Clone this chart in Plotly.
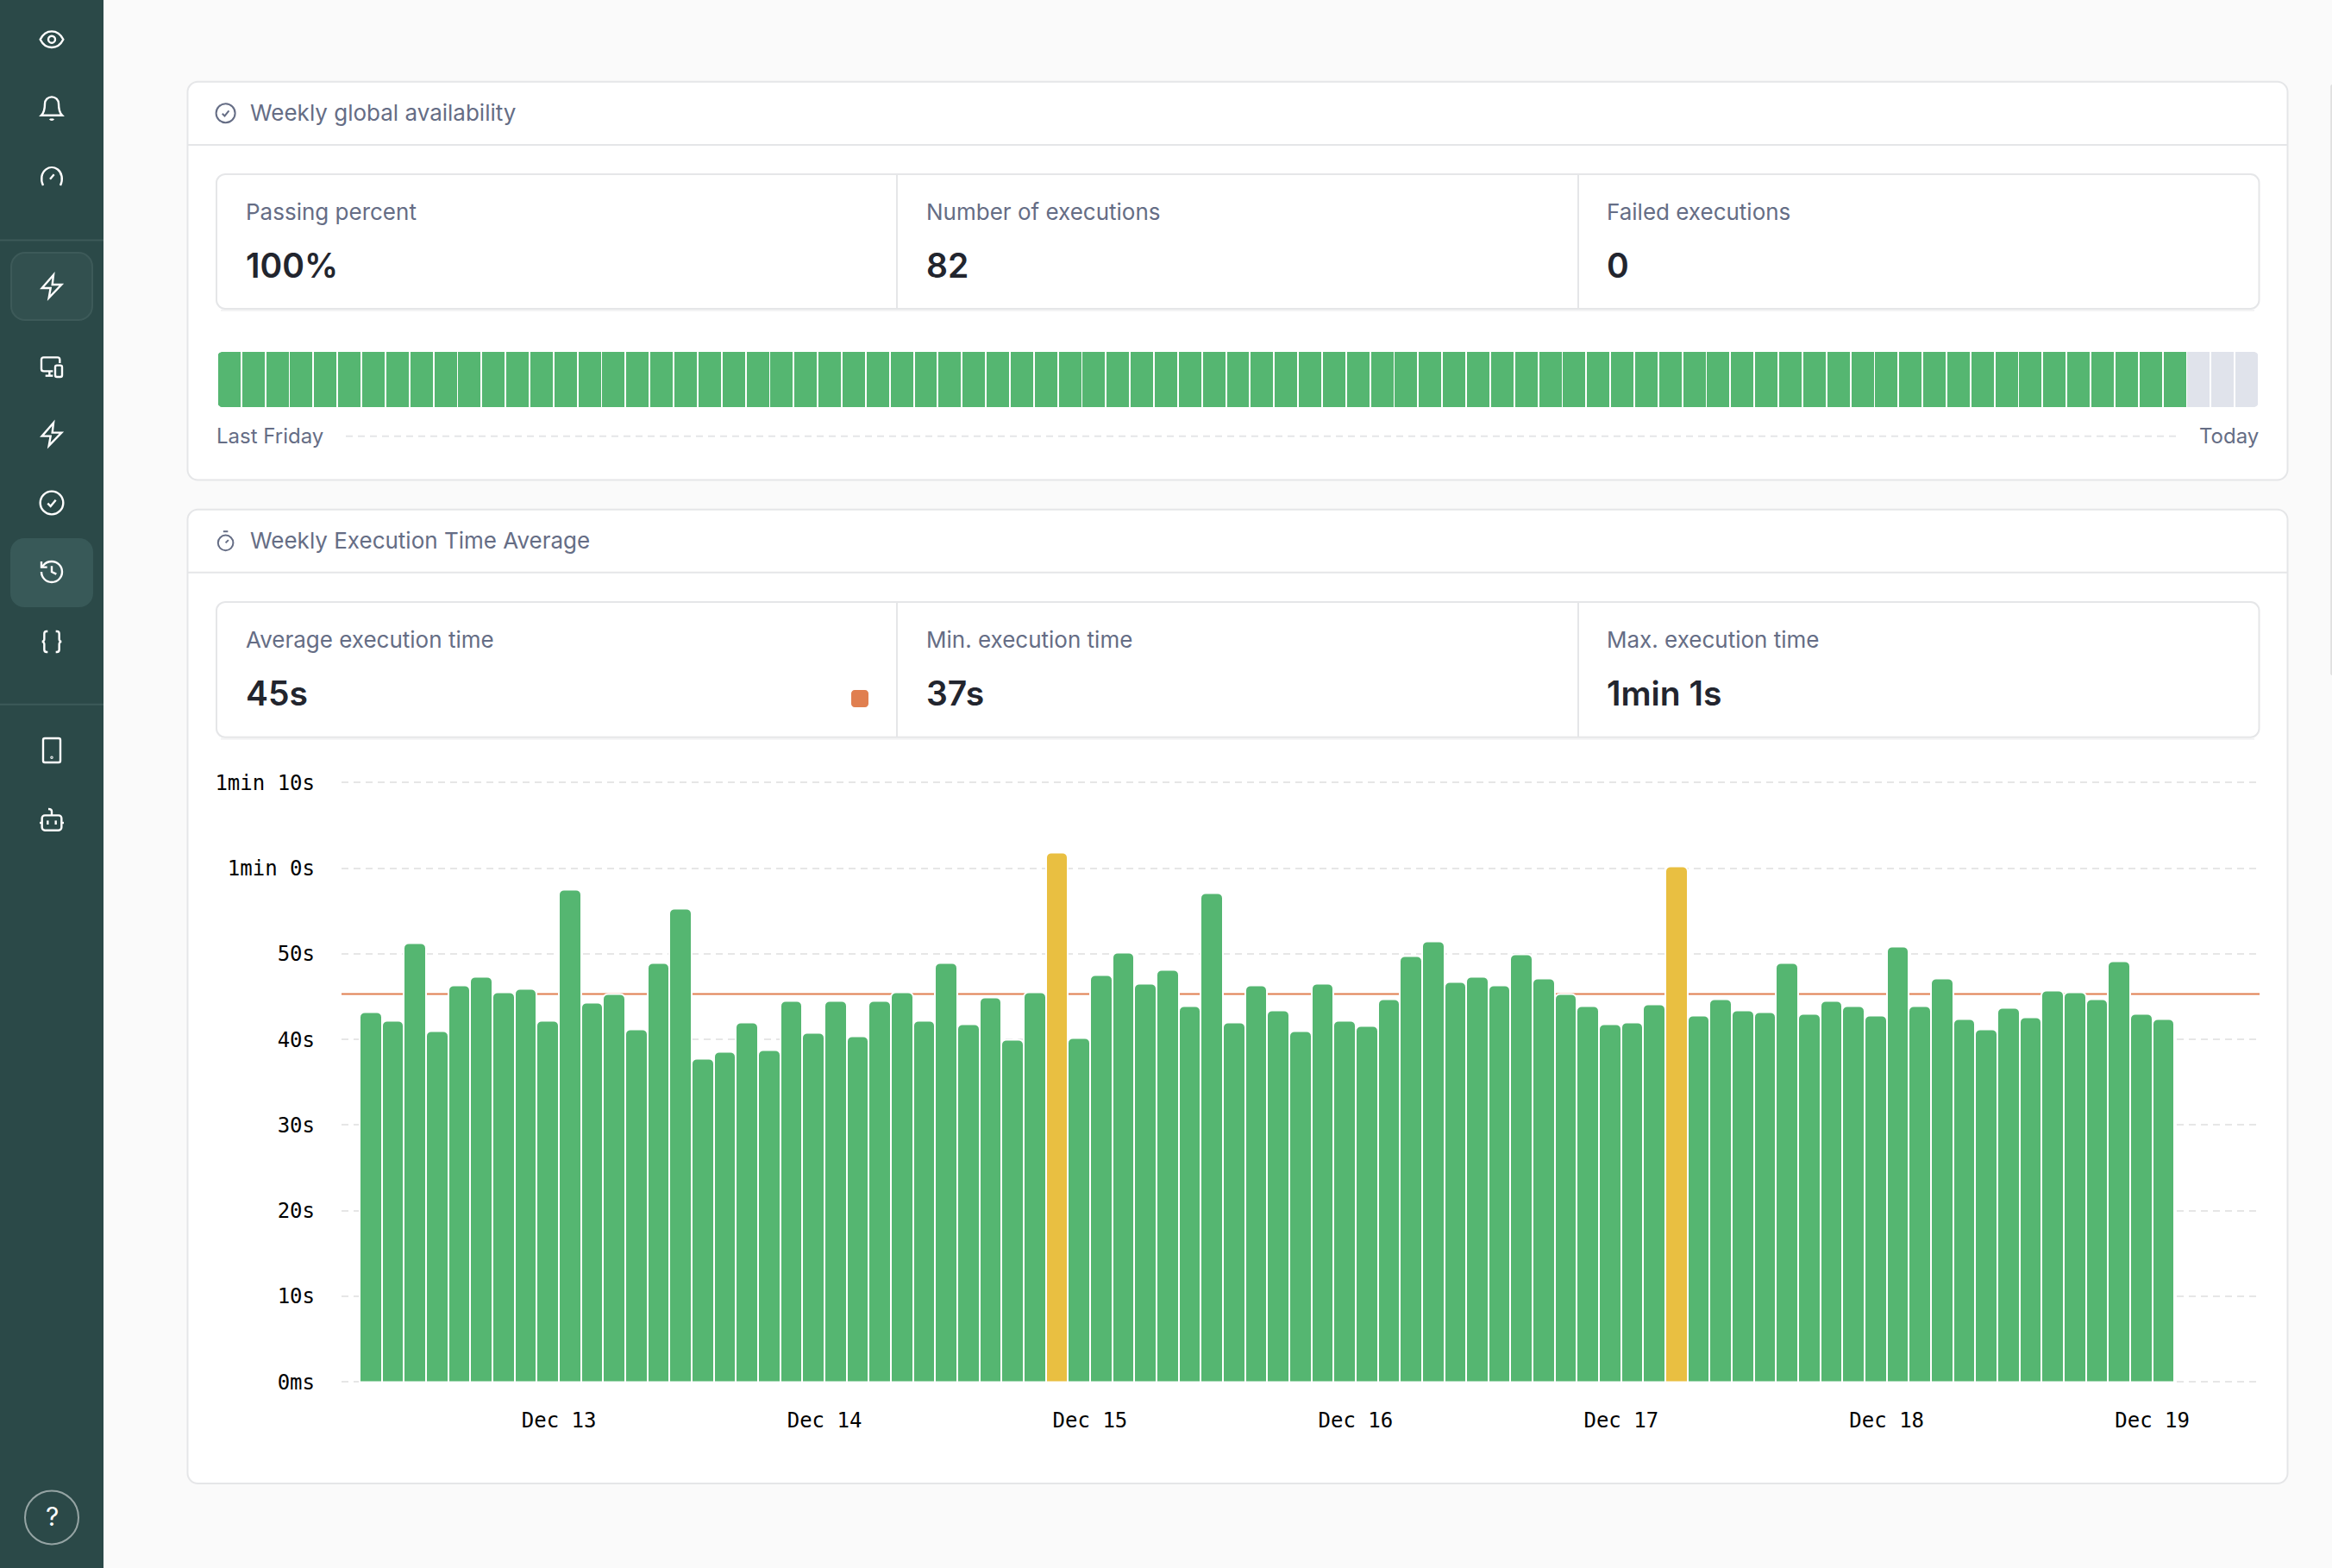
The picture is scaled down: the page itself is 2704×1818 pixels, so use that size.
import pandas as pd
import plotly.graph_objects as go

W, H = 2704, 1818

# execution time per run, seconds
exec_seconds = [
    43.2, 42.2, 51.3, 41.0, 46.3, 47.3, 45.5, 45.9, 42.2, 57.5, 44.3, 45.3, 41.2, 48.9, 55.3, 37.8,
    38.6, 42.0, 38.8, 44.5, 40.8, 44.5, 40.4, 44.5, 45.5, 42.2, 48.9, 41.8, 44.9, 40.0, 45.5, 61.8,
    40.2, 47.5, 50.1, 46.5, 48.1, 43.9, 57.1, 42.0, 46.3, 43.4, 41.0, 46.5, 42.2, 41.6, 44.7, 49.7,
    51.5, 46.7, 47.3, 46.3, 49.9, 47.1, 45.3, 43.9, 41.8, 42.0, 44.1, 60.2, 42.8, 44.7,
    43.4, 43.2, 48.9, 43.0, 44.5, 43.9, 42.8, 50.9, 43.9, 47.1, 42.4, 41.2, 43.7, 42.6, 45.7, 45.5,
    44.7, 49.1, 43.0, 42.4,
]
avg_seconds = 45.3
slow_limit = 60
run_times = pd.date_range("2023-12-12 07:00", periods=len(exec_seconds), freq="2h")
y_ticks = [0, 10, 20, 30, 40, 50, 60, 70]
y_labels = ["0ms", "10s", "20s", "30s", "40s", "50s", "1min 0s", "1min 10s"]
x_ticks = ["2023-12-13", "2023-12-14", "2023-12-15", "2023-12-16", "2023-12-17", "2023-12-18", "2023-12-19"]
x_labels = ["Dec 13", "Dec 14", "Dec 15", "Dec 16", "Dec 17", "Dec 18", "Dec 19"]

# availability strip: 82 passed slots then 3 empty ones
passed_slots = 82
empty_slots = 3

availability_stats = [("Passing percent", "100%"), ("Number of executions", "82"), ("Failed executions", "0")]
time_stats = [("Average execution time", "45s"), ("Min. execution time", "37s"), ("Max. execution time", "1min 1s")]

GREEN = "#55B671"
YELLOW = "#E9BF41"
ORANGE = "#E07F50"
EMPTY = "#E0E3EB"
BORDER = "#E5E6E8"
MUTED = "#656D85"
DARK = "#22252E"
SIDEBAR = "#2B4948"
FONT = "Inter"
MONO = "DejaVu Sans Mono"


def fx(x):
    return x / W


def fy(y):
    return 1 - y / H


def to_paper(d):
    # path written in page pixels, absolute commands only
    out = []
    is_x = True
    for tok in d.split():
        if tok[0].isalpha():
            out.append(tok)
            is_x = True
        else:
            v = float(tok)
            out.append(f"{fx(v):.6f}" if is_x else f"{fy(v):.6f}")
            is_x = not is_x
    return " ".join(out)


def rrect(x0, y0, x1, y1, r):
    k = r * 0.45
    return (f"M {x0 + r} {y0} L {x1 - r} {y0} C {x1 - k} {y0} {x1} {y0 + k} {x1} {y0 + r} "
            f"L {x1} {y1 - r} C {x1} {y1 - k} {x1 - k} {y1} {x1 - r} {y1} "
            f"L {x0 + r} {y1} C {x0 + k} {y1} {x0} {y1 - k} {x0} {y1 - r} "
            f"L {x0} {y0 + r} C {x0} {y0 + k} {x0 + k} {y0} {x0 + r} {y0} Z")


def circle(cx, cy, r):
    return rrect(cx - r, cy - r, cx + r, cy + r, r)


shapes = []
notes = []


def path(d, fill="rgba(0,0,0,0)", line=None, width=2, layer="below"):
    shapes.append(dict(type="path", path=to_paper(d), xref="paper", yref="paper", fillcolor=fill, layer=layer,
                       line=dict(color=line or "rgba(0,0,0,0)", width=width if line else 0)))


def hline(x0, x1, y, color, width=2, dash=None):
    shapes.append(dict(type="line", xref="paper", yref="paper", x0=fx(x0), x1=fx(x1), y0=fy(y), y1=fy(y),
                       layer="below", line=dict(color=color, width=width, dash=dash)))


def text(x, y, s, size, color, anchor="left", weight=400, font=FONT):
    notes.append(dict(xref="paper", yref="paper", x=fx(x), y=fy(y), text=s, showarrow=False, xanchor=anchor,
                      yanchor="middle", borderpad=0, font=dict(family=font, size=size, color=color, weight=weight)))


def icon(parts, cx, cy, scale, color, width=2.4):
    for part in parts:
        toks = []
        is_x = True
        for tok in part.split():
            if tok[0].isalpha():
                toks.append(tok)
                is_x = True
            else:
                v = float(tok)
                toks.append(str(round(cx + (v - 12) * scale, 2) if is_x else round(cy + (v - 12) * scale, 2)))
                is_x = not is_x
        path(" ".join(toks), line=color, width=width)


EYE = ["M 2 12 C 4.5 7 8 5 12 5 C 16 5 19.5 7 22 12 C 19.5 17 16 19 12 19 C 8 19 4.5 17 2 12 Z", circle(12, 12, 3)]
BELL = ["M 6 8 C 6 4.7 8.7 2 12 2 C 15.3 2 18 4.7 18 8 C 18 13 19 16 21 18 L 3 18 C 5 16 6 13 6 8 Z",
        "M 10.5 21 C 11 22 13 22 13.5 21"]
GAUGE = ["M 4.5 19.5 C 2 14 3 8.5 7 5.5 C 10 3.3 14 3.3 17 5.5 C 21 8.5 22 14 19.5 19.5", "M 10.5 14 L 14 10"]
BOLT = ["M 13.5 2 L 3.5 13.5 L 11 13.5 L 9.5 22 L 20.5 10.5 L 12.5 10.5 Z"]
DEVICES = ["M 13 16 L 5 16 C 3.9 16 3 15.1 3 14 L 3 6 C 3 4.9 3.9 4 5 4 L 17 4 C 18.1 4 19 4.9 19 6 L 19 9",
           "M 10 16 L 10 20", "M 6.5 20 L 13 20", rrect(15, 11, 21, 21, 1.5)]
CHECK = [circle(12, 12, 10), "M 8.5 12.5 L 11 15 L 15.5 9.5"]
HISTORY = ["M 3 12 C 3 17 7 21 12 21 C 17 21 21 17 21 12 C 21 7 17 3 12 3 C 9.2 3 6.6 4.1 5 6 L 3 8",
           "M 3 3 L 3 8 L 8 8", "M 12 7 L 12 12 L 16 14"]
BRACES = ["M 8.5 3 L 7.5 3 C 6.4 3 5.5 3.9 5.5 5 L 5.5 10 C 5.5 11 4.5 12 3.5 12 C 4.5 12 5.5 13 5.5 14 L 5.5 19 C 5.5 20.1 6.4 21 7.5 21 L 8.5 21",
          "M 15.5 3 L 16.5 3 C 17.6 3 18.5 3.9 18.5 5 L 18.5 10 C 18.5 11 19.5 12 20.5 12 C 19.5 12 18.5 13 18.5 14 L 18.5 19 C 18.5 20.1 17.6 21 16.5 21 L 15.5 21"]
PHONE = [rrect(4.5, 1.5, 19.5, 22.5, 1.5), circle(12, 18.2, 0.4)]
ROBOT = [rrect(3.5, 8, 20.5, 21, 2.5), "M 12 8 L 12 4.5 C 12 3 10.5 2.5 9 2.5", "M 8.5 12.5 L 8.5 16", "M 15.5 12.5 L 15.5 16",
         "M 1.5 14.5 L 3.5 14.5", "M 20.5 14.5 L 22.5 14.5"]
WATCH = [circle(12, 14, 8), "M 9.5 2 L 14.5 2", "M 12 14 L 15 11"]

# page chrome
path(f"M 0 0 L 120 0 L 120 {H} L 0 {H} Z", fill=SIDEBAR)
hline(0, 120, 278.6, "#3D5A59")
hline(0, 120, 816.7, "#3D5A59")
path(rrect(13, 293, 107, 371, 16), fill="#32504F", line="#3D5A59")
path(rrect(12, 624, 108, 704, 16), fill="#385958")
for shape, cy in [(EYE, 45.7), (BELL, 125.7), (GAUGE, 205), (BOLT, 332), (DEVICES, 425), (BOLT, 503.6),
                  (CHECK, 583), (HISTORY, 663), (BRACES, 744), (PHONE, 870), (ROBOT, 950.7)]:
    icon(shape, 60, cy, 1.333, "#FFFFFF")
path(circle(60, 1759.4, 31), line="rgba(255,255,255,0.5)")
text(60, 1758, "?", 30, "#FFFFFF", anchor="center")
# scrollbar sliver at the right edge
path(rrect(2702.2, 98, 2707, 783, 2), fill="#E0E0E0")

COLS = [(251, 1040, 284), (1040, 1830, 1073), (1830, 2619.5, 1861.5)]


def card(top, header_y, bottom, title, ico, box_top, box_bottom, stats):
    path(rrect(217.5, top, 2652.5, bottom, 12), fill="#FFFFFF", line=BORDER)
    hline(217.5, 2652.5, header_y, BORDER)
    icon(ico, 261.6, top + 36.5, 1.1, MUTED, 2)
    text(288.5, top + 35.7, title, 26, MUTED)
    hline(256, 2614, box_bottom + 2, "#F3F3F4")
    path(rrect(251, box_top, 2619.5, box_bottom, 10), fill="#FFFFFF", line=BORDER)
    for x in [1040, 1830]:
        shapes.append(dict(type="line", xref="paper", yref="paper", x0=fx(x), x1=fx(x), y0=fy(box_top), y1=fy(box_bottom),
                           layer="below", line=dict(color=BORDER, width=2)))
    for (_, _, tx), (label, val) in zip(COLS, stats):
        text(tx, box_top + 43.7, label, 26, MUTED)
        text(tx, box_top + 105.7, val, 39, DARK, weight=600)


card(94.7, 168, 556.5, "Weekly global availability", CHECK, 202, 358, availability_stats)
card(590.7, 663.7, 1720, "Weekly Execution Time Average", WATCH, 698, 854.7, time_stats)

path(rrect(987, 800, 1007, 820, 4), fill=ORANGE)
text(250, 505.7, "Last Friday", 24, MUTED)
text(2620, 505.7, "Today", 24, MUTED, anchor="right")
hline(401, 2528, 505.7, BORDER, dash="8px,6px")

# average line sits behind the bars
shapes.append(dict(type="line", xref="paper", yref="y", x0=fx(396), x1=fx(2620), y0=avg_seconds, y1=avg_seconds,
                   layer="below", line=dict(color=ORANGE, width=2)))

# rounded ends of the availability strip
for x0, y0, cx, cy in [(252, 408, 258, 414), (2619, 408, 2613, 414), (252, 472, 258, 466), (2619, 472, 2613, 466)]:
    path(f"M {x0} {y0} L {cx} {y0} C {x0 + (cx - x0) * 0.45} {y0} {x0} {y0 + (cy - y0) * 0.45} {x0} {cy} Z",
         fill="#FFFFFF", layer="above")

fig = go.Figure()

px_per_bar = 25.66
first_center = 430
two_hours = pd.Timedelta(hours=2)
x_start = run_times[0] - two_hours * ((first_center - 396) / px_per_bar)
x_end = run_times[0] + two_hours * ((2616 - first_center) / px_per_bar)

fig.add_trace(go.Bar(
    x=run_times, y=exec_seconds, width=2 * 3600 * 1000,
    marker=dict(color=[YELLOW if v > slow_limit else GREEN for v in exec_seconds],
                line=dict(color="#FFFFFF", width=2), cornerradius=6),
    xaxis="x", yaxis="y", hoverinfo="skip",
))

slots = list(range(passed_slots + empty_slots))
fig.add_trace(go.Bar(
    x=slots, y=[1] * len(slots), width=26 / 27.87,
    marker=dict(color=[GREEN] * passed_slots + [EMPTY] * empty_slots, line=dict(width=0)),
    xaxis="x2", yaxis="y2", hoverinfo="skip",
))

fig.update_layout(
    width=W, height=H, margin=dict(l=0, r=0, t=0, b=0, autoexpand=False), showlegend=False, autosize=False,
    paper_bgcolor="#FAFAFA", plot_bgcolor="rgba(0,0,0,0)", bargap=0, barmode="overlay",
    shapes=shapes, annotations=notes,
    xaxis=dict(domain=[fx(396), fx(2616)], range=[x_start, x_end], type="date", tickmode="array", automargin=False,
               tickvals=x_ticks, ticktext=x_labels, showgrid=False, zeroline=False, showline=False, ticks="",
               ticklabelstandoff=18, tickfont=dict(family=MONO, size=24, color="#000000"), anchor="y"),
    yaxis=dict(domain=[fy(1612.3), fy(887.4)], range=[-1, 72], tickmode="array", tickvals=y_ticks, ticktext=y_labels,
               automargin=False, showgrid=True, gridcolor="#E6E6E6", gridwidth=2, griddash="8px,6px", zeroline=False,
               showline=False, ticks="", ticklabelstandoff=30, tickfont=dict(family=MONO, size=24, color="#000000"), anchor="x"),
    xaxis2=dict(domain=[fx(252), fx(2619)], range=[-0.5, 84.5], visible=False, anchor="y2", automargin=False),
    yaxis2=dict(domain=[fy(472), fy(408)], range=[0, 1], visible=False, anchor="x2", automargin=False),
)

fig.write_html("out.html", config=dict(displayModeBar=False),
               post_script="document.documentElement.style.overflow='hidden';document.body.style.margin='0';"
                           "document.body.style.height='1818px';document.body.style.overflow='hidden';")
